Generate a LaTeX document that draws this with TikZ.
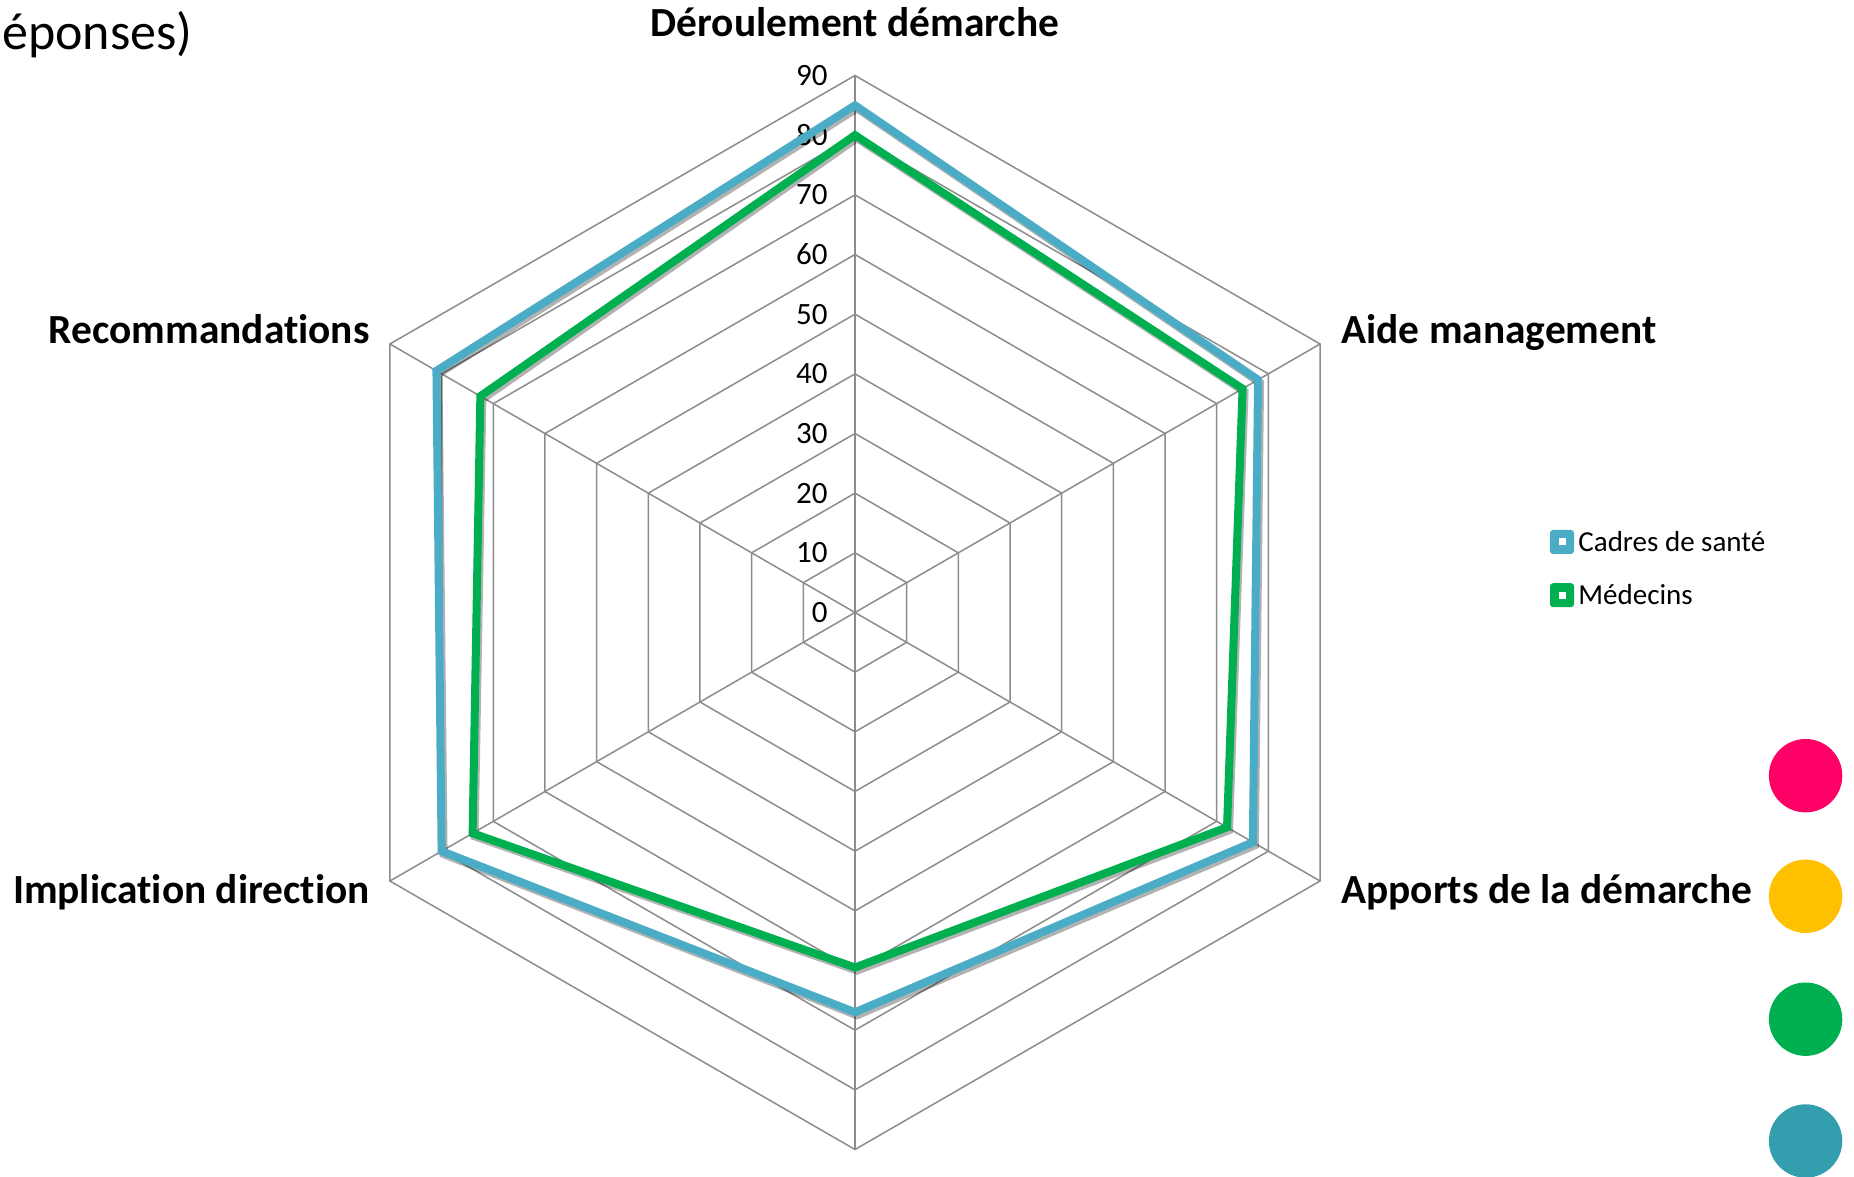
\documentclass[tikz,border=0pt]{standalone}
\usepackage{fontspec}
\setmainfont[RawFeature=-liga]{Carlito}
\usetikzlibrary{positioning}

\definecolor{cadresblue}{HTML}{4BACC6}
\definecolor{medgreen}{HTML}{00B050}
\definecolor{gridgray}{HTML}{8C8C8C}
\definecolor{dotpink}{HTML}{FF0066}
\definecolor{dotyellow}{HTML}{FFC000}
\definecolor{dotteal}{HTML}{339FAE}
% length of 1 unit on an axis
\def\runit{5.9667}

\begin{document}
\begin{tikzpicture}[x=0.5pt,y=0.5pt,
 gridline/.style ={draw=gridgray,line width=.75pt},
 cadres/.style ={draw=cadresblue,line width=4pt},
 medecins/.style ={draw=medgreen,line width=4pt},
 shadowline/.style ={draw=black,opacity=.3,line width=4pt,transform canvas={shift={(1pt,-1.5pt)}}},
 axislabel/.style ={font=\bfseries\fontsize{20.7}{24}\selectfont,inner sep=0pt},
 ticklabel/.style ={font=\fontsize{15.5}{18}\selectfont,inner sep=0pt,anchor=east},
 legendtext/.style ={font=\fontsize{14.5}{17}\selectfont,inner sep=0pt,anchor=base west},
 legendmark/.style ={minimum size=12pt,inner sep=0pt,rounded corners=1.5pt},
 legendhole/.style ={fill=white,minimum size=3.5pt,inner sep=0pt}
 ]
\useasboundingbox (-855,-564.5) rectangle (999,612.5);
%title cut at the left
\node[font=\fontsize{26}{30}\selectfont,inner sep=0pt,anchor=base east] (title) at (-662,562.5) {éponses)};
%draw grid hexagons
\foreach \r in {10,20,...,90}
  \draw[gridline] (90:{\r*\runit}) -- (30:{\r*\runit}) -- (-30:{\r*\runit}) -- (-90:{\r*\runit}) -- (210:{\r*\runit}) -- (150:{\r*\runit}) -- cycle;
%draw spokes
\foreach \a in {90,30,-30,-90,210,150}
  \draw[gridline] (0,0) -- (\a:{90*\runit});
%scale on the top axis
\foreach \v in {0,10,...,90}
  \node[ticklabel] (t\v) at (-27,{\v*\runit}) {\v};
%axis labels
\node[axislabel,anchor=base] (deroulement) at (0,576) {Déroulement démarche};
\node[axislabel,anchor=base west] (aide) at (486,268.5) {Aide management};
\node[axislabel,anchor=base west] (apports) at (486,-291) {Apports de la démarche};
\node[axislabel,anchor=base east] (implication) at (-485,-291) {Implication direction};
\node[axislabel,anchor=base east] (recommandations) at (-485,268.5) {Recommandations};
%data points
\foreach \a/\v [count=\i] in {90/85,30/78,-30/77,-90/67,210/80,150/81}
  \coordinate (c\i) at (\a:{\v*\runit});
\foreach \a/\v [count=\i] in {90/80,30/75,-30/72,-90/59.5,210/74,150/72.5}
  \coordinate (m\i) at (\a:{\v*\runit});
%draw series cadres de sante
\draw[shadowline] (c1) -- (c2) -- (c3) -- (c4) -- (c5) -- (c6) -- cycle;
\draw[cadres] (c1) -- (c2) -- (c3) -- (c4) -- (c5) -- (c6) -- cycle;
%draw series medecins
\draw[shadowline] (m1) -- (m2) -- (m3) -- (m4) -- (m5) -- (m6) -- cycle;
\draw[medecins] (m1) -- (m2) -- (m3) -- (m4) -- (m5) -- (m6) -- cycle;
%legend
\node[legendmark,fill=cadresblue] (mcadres) at (707,70.5) {};
\node[legendhole] (hcadres) at (mcadres) {};
\node[legendtext] (cadres) at (723,60.8) {Cadres de santé};
\node[legendmark,fill=medgreen] (mmedecins) at (707,17.3) {};
\node[legendhole] (hmedecins) at (mmedecins) {};
\node[legendtext] (medecins) at (723,7.6) {Médecins};
%coloured dots at the right
\fill[dotpink] (950.6,-163.2) circle (36.7);
\fill[dotyellow] (950.6,-283.8) circle (36.7);
\fill[medgreen] (950.6,-406.7) circle (36.7);
\fill[dotteal] (950.6,-528.5) circle (36.7);
\end{tikzpicture}
\end{document}
